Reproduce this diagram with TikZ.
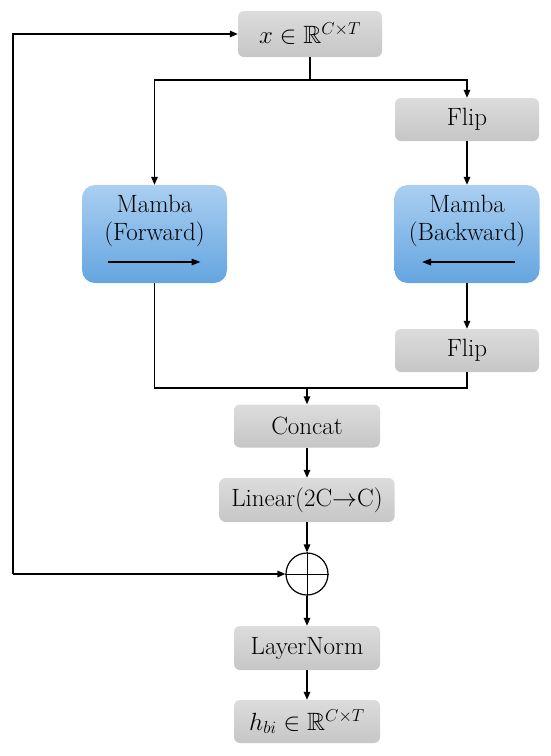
\documentclass[tikz,border=0pt]{standalone}
\usepackage{amssymb}
\usetikzlibrary{arrows.meta,calc}
\definecolor{gtop}{HTML}{DCDCDC}
\definecolor{gbot}{HTML}{C6C6C6}
\definecolor{btop}{HTML}{AACFF1}
\definecolor{bbot}{HTML}{64A5E0}
\tikzset{
  graybox/.style={rounded corners=6pt, top color=gtop, bottom color=gbot, draw=none,
    minimum width=144pt, minimum height=43pt, inner sep=0pt, font=\fontsize{25}{28}\selectfont},
  bluebox/.style={rounded corners=13pt, top color=btop, bottom color=bbot, draw=none,
    minimum width=145pt, minimum height=98pt, inner sep=0pt},
  bluetext/.style={align=center, inner sep=0pt, font=\fontsize{25}{28}\selectfont},
  conn/.style={line width=1.4pt, -{Triangle[length=8pt,width=6.5pt]}},
  plain/.style={line width=1.4pt},
  inarrow/.style={line width=1.6pt, -{Triangle[length=9pt,width=6.5pt]}},
}
\begin{document}
\begin{tikzpicture}[x=1pt,y=-1pt]
\useasboundingbox (0,0) rectangle (550,756);
% boxes
\node[graybox, minimum height=46pt] (top) at (310,34) {$x \in \mathbb{R}^{C\times T}$};
\node[graybox] (flipa) at (467,119.5) {Flip};
\node[bluebox] (mf) at (154.5,234) {};
\node[bluebox] (mb) at (467,234) {};
\node[bluetext] (mft) at (154.5,221) {Mamba\\(Forward)};
\node[bluetext] (mbt) at (467,221) {Mamba\\(Backward)};
\node[graybox] (flipb) at (467,350.5) {Flip};
\node[graybox, minimum width=146pt] (concat) at (307,426) {Concat};
\node[graybox, minimum width=175pt, minimum height=44pt] (linear) at (307,500) {Linear(2C$\rightarrow$C)};
\node[circle, draw, line width=1.2pt, minimum size=42pt, inner sep=0pt] (plus) at (307,574) {};
\draw[line width=1pt] (plus.north) -- (plus.south) (plus.west) -- (plus.east);
\node[graybox, minimum width=146pt, minimum height=44pt] (ln) at (307,648) {LayerNorm};
\node[graybox, minimum width=146pt] (out) at (307,721.5) {$h_{bi} \in \mathbb{R}^{C\times T}$};
% inner arrows
\coordinate (fa1) at ($(mf.center)+(-47,28)$);
\coordinate (fa2) at ($(mf.center)+(46,28)$);
\coordinate (ba1) at ($(mb.center)+(48,28)$);
\coordinate (ba2) at ($(mb.center)+(-45,28)$);
\draw[inarrow] (fa1) -- (fa2);
\draw[inarrow] (ba1) -- (ba2);
% connectors
\coordinate (split) at (310,80);
\draw[plain] (top.south) -- (split);
\draw[conn] (split) -| (mf.north);
\draw[conn] (split) -| (flipa.north);
\draw[conn] (flipa) -- (mb);
\draw[conn] (mb) -- (flipb);
\coordinate (join) at (307,388);
\draw[plain] (mf.south) |- (join);
\draw[plain] (flipb.south) |- (join);
\draw[conn] (join) -- (concat.north);
\draw[conn] (concat) -- (linear);
\draw[conn] (linear) -- (plus);
\draw[conn] (plus) -- (ln);
\draw[conn] (ln) -- (out);
\coordinate (fb) at (13,574);
\draw[conn] (fb) -- (plus.west);
\draw[conn] (fb) |- (top.west);
\end{tikzpicture}
\end{document}
